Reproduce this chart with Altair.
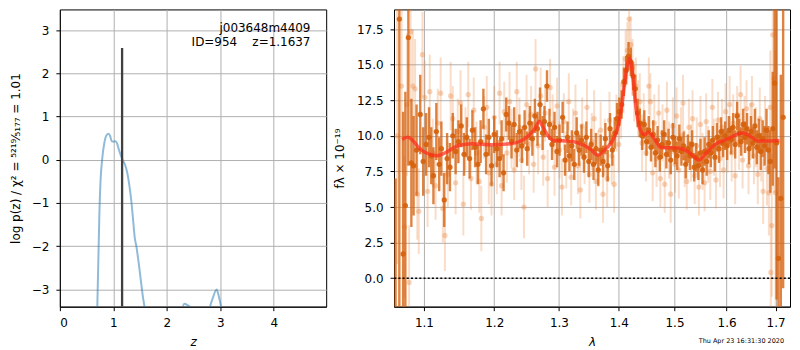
import altair as alt
import pandas as pd

FONT = "DejaVu Sans"

# ---------------- left panel: redshift probability ----------------
pz_z = [0.60, 0.66, 0.70, 0.72, 0.74, 0.76, 0.79, 0.83, 0.87, 0.91,
        0.94, 0.97, 1.00, 1.04, 1.07, 1.10, 1.14, 1.18, 1.22, 1.26,
        1.30, 1.34, 1.37, 1.40, 1.43, 1.47, 1.51, 1.55, 1.59, 1.64,
        1.80, 2.20, 2.27, 2.33, 2.38, 2.44, 2.55, 2.72, 2.80, 2.86,
        2.93, 2.97, 3.02, 3.10, 3.30]
pz_logp = [-9.0, -6.0, -3.4, -2.3, -1.2, -0.5, 0.0, 0.38, 0.56, 0.60,
           0.55, 0.43, 0.42, 0.43, 0.38, 0.25, 0.10, -0.02, -0.12, -0.30,
           -0.60, -1.00, -1.40, -1.80, -2.00, -2.35, -2.75, -3.15, -3.50, -4.50,
           -7.0, -4.5, -3.6, -3.33, -3.36, -3.42, -4.0, -4.2, -3.45, -3.2,
           -3.0, -3.15, -3.45, -4.5, -7.0]
z_best = [1.1637]
z_line_top = [2.59]
z_line_bottom = [-3.40]
left_xticks = [0, 1, 2, 3, 4]
left_yticks = [-3, -2, -1, 0, 1, 2, 3]
label_line1 = ["j003648m4409"]
label_line2 = ["ID=954\u00a0\u00a0\u00a0\u00a0z=1.1637"]

# ---------------- right panel: spectrum ----------------
model_wave = [1.0706, 1.078, 1.0835, 1.093, 1.102, 1.118, 1.130, 1.149, 1.168, 1.196,
              1.225, 1.240, 1.250, 1.261, 1.269, 1.274, 1.283, 1.292, 1.314, 1.330,
              1.352, 1.364, 1.377, 1.391, 1.399, 1.405, 1.410, 1.4165, 1.419, 1.424,
              1.430, 1.439, 1.446, 1.453, 1.462, 1.476, 1.499, 1.517, 1.5335, 1.546,
              1.558, 1.577, 1.600, 1.620, 1.633, 1.647, 1.6635, 1.684, 1.708]
model_flux = [9.75, 9.91, 9.75, 9.17, 8.83, 8.60, 8.83, 9.34, 9.45, 9.38,
              9.45, 9.64, 9.93, 10.44, 11.01, 10.67, 9.98, 9.67, 9.64, 9.52,
              9.06, 8.65, 9.06, 9.79, 10.67, 12.04, 13.65, 15.26, 15.44, 14.34,
              12.04, 10.32, 10.09, 10.25, 9.86, 9.17, 9.17, 9.06, 8.65, 8.30,
              8.72, 9.40, 9.75, 10.09, 10.20, 9.98, 9.64, 9.64, 9.67]

dark_wave = [1.062, 1.067, 1.072, 1.075, 1.079, 1.083, 1.086, 1.090, 1.095, 1.099,
             1.103, 1.107, 1.110, 1.113, 1.117, 1.121, 1.124, 1.128, 1.132, 1.136,
             1.140, 1.144, 1.148, 1.152, 1.156, 1.160, 1.164, 1.168, 1.172, 1.176,
             1.180, 1.184, 1.188, 1.192, 1.196, 1.200, 1.204, 1.208, 1.211, 1.214,
             1.218, 1.222, 1.226, 1.230, 1.234, 1.238, 1.242, 1.246, 1.250, 1.254,
             1.258, 1.262, 1.266, 1.270, 1.274, 1.277, 1.281, 1.285, 1.289, 1.293,
             1.297, 1.301, 1.306, 1.310, 1.314, 1.317, 1.321, 1.325, 1.329, 1.333,
             1.337, 1.341, 1.345, 1.349, 1.353, 1.357, 1.361, 1.365, 1.369, 1.373,
             1.377, 1.381, 1.385, 1.389, 1.393, 1.397, 1.401, 1.405, 1.409, 1.413,
             1.417, 1.421, 1.425, 1.429, 1.433, 1.437, 1.441, 1.445, 1.449, 1.453,
             1.457, 1.461, 1.465, 1.469, 1.473, 1.477, 1.481, 1.485, 1.489, 1.493,
             1.497, 1.501, 1.505, 1.509, 1.513, 1.517, 1.521, 1.525, 1.529, 1.533,
             1.537, 1.541, 1.545, 1.549, 1.553, 1.557, 1.561, 1.565, 1.569, 1.573,
             1.577, 1.581, 1.585, 1.589, 1.593, 1.597, 1.601, 1.605, 1.609, 1.613,
             1.617, 1.621, 1.625, 1.629, 1.633, 1.637, 1.641, 1.645, 1.649, 1.653,
             1.657, 1.661, 1.665, 1.669, 1.673, 1.677, 1.681, 1.685, 1.689, 1.694,
             1.698, 1.702, 1.706, 1.711, 1.716]
dark_flux = [-4.0, 18.2, 1.7, 5.1, 16.9, 8.1, 7.9, 9.0, 11.5, 8.2,
             9.4, 9.9, 8.6, 7.2, 10.3, 8.0, 9.1, 5.5, 8.4, 7.8,
             10.0, 8.9, 9.6, 10.7, 8.7, 9.9, 8.4, 10.4, 9.2, 8.0,
             9.6, 11.9, 8.7, 9.9, 7.9, 10.1, 9.1, 8.4, 9.8, 7.4,
             11.5, 10.9, 9.6, 10.8, 9.0, 10.3, 9.3, 10.6, 9.1, 10.9,
             9.8, 11.4, 10.5, 12.2, 10.2, 11.0, 13.5, 10.8, 9.4, 10.6,
             8.9, 9.7, 11.3, 8.3, 9.9, 8.6, 9.3, 8.0, 10.2, 9.0,
             9.7, 8.5, 9.9, 8.2, 9.4, 8.0, 9.1, 7.6, 9.0, 8.2,
             9.8, 7.9, 10.5, 9.0, 10.2, 11.2, 11.7, 12.2, 13.8, 14.6,
             15.6, 15.2, 14.2, 13.3, 11.6, 10.9, 10.0, 10.8, 9.6, 10.4,
             9.2, 10.1, 8.8, 9.7, 8.5, 9.4, 10.1, 8.7, 9.5, 8.3,
             9.9, 9.0, 8.6, 9.8, 8.9, 9.3, 8.0, 9.1, 8.6, 9.4,
             7.8, 8.5, 7.9, 8.8, 7.6, 8.9, 8.2, 9.4, 8.8, 9.7,
             8.5, 9.9, 9.1, 10.3, 9.5, 10.0, 9.3, 10.4, 9.7, 10.6,
             9.4, 11.4, 10.2, 9.6, 10.8, 9.9, 10.5, 9.1, 10.3, 9.5,
             10.7, 9.2, 10.0, 8.9, 9.8, 9.3, 10.4, 9.0, 8.2, 10.5,
             13.7, 9.5, 1.4, 5.6, 11.3]
dark_err = [11.0, 21.0, 10.0, 8.0, 9.0, 4.5, 3.5, 3.2, 2.8, 2.4,
            2.2, 2.1, 2.0, 2.0, 2.0, 1.9, 1.9, 1.9, 1.8, 1.7,
            1.6, 1.6, 1.5, 1.5, 1.5, 1.4, 1.4, 1.4, 1.4, 1.4,
            1.5, 1.4, 1.4, 1.3, 1.4, 1.3, 1.3, 1.3, 1.3, 1.3,
            1.2, 1.2, 1.2, 1.2, 1.2, 1.2, 1.2, 1.2, 1.2, 1.2,
            1.2, 1.2, 1.2, 1.2, 1.2, 1.1, 1.1, 1.1, 1.1, 1.1,
            1.1, 1.1, 1.1, 1.1, 1.1, 1.1, 1.1, 1.1, 1.1, 1.1,
            1.1, 1.1, 1.1, 1.1, 1.1, 1.1, 1.1, 1.1, 1.1, 1.1,
            1.1, 1.1, 1.1, 1.1, 1.1, 1.1, 1.0, 1.0, 1.0, 1.0,
            1.0, 1.0, 1.0, 1.0, 1.0, 1.0, 1.0, 1.0, 1.0, 1.0,
            1.0, 1.0, 1.0, 1.0, 1.0, 1.0, 1.0, 1.0, 1.0, 1.0,
            1.0, 1.0, 1.0, 1.0, 1.0, 1.0, 1.0, 1.0, 1.0, 1.0,
            1.0, 1.0, 1.0, 1.0, 1.0, 1.0, 1.0, 1.0, 1.0, 1.0,
            1.0, 1.0, 1.0, 1.0, 1.0, 1.0, 1.0, 1.0, 1.0, 1.0,
            1.0, 1.0, 1.0, 1.0, 1.1, 1.1, 1.1, 1.1, 1.1, 1.1,
            1.2, 1.2, 1.2, 1.3, 1.3, 1.4, 1.5, 1.7, 2.2, 4.0,
            6.0, 11.0, 5.7, 8.7, 12.0]

light_wave = [1.064, 1.070, 1.074, 1.077, 1.080, 1.082, 1.085, 1.088, 1.091, 1.093,
              1.098, 1.101, 1.105, 1.108, 1.112, 1.116, 1.119, 1.123, 1.126, 1.129,
              1.133, 1.137, 1.140, 1.144, 1.147, 1.151, 1.155, 1.158, 1.162, 1.166,
              1.170, 1.174, 1.178, 1.181, 1.185, 1.189, 1.192, 1.196, 1.200, 1.204,
              1.208, 1.211, 1.215, 1.219, 1.223, 1.226, 1.230, 1.234, 1.238, 1.241,
              1.245, 1.249, 1.253, 1.256, 1.260, 1.263, 1.267, 1.271, 1.275, 1.278,
              1.282, 1.286, 1.290, 1.293, 1.297, 1.301, 1.305, 1.308, 1.312, 1.316,
              1.320, 1.323, 1.327, 1.331, 1.335, 1.338, 1.342, 1.346, 1.350, 1.354,
              1.358, 1.361, 1.365, 1.369, 1.373, 1.376, 1.380, 1.384, 1.388, 1.392,
              1.396, 1.400, 1.404, 1.408, 1.412, 1.415, 1.418, 1.421, 1.424, 1.427,
              1.430, 1.434, 1.437, 1.441, 1.444, 1.448, 1.453, 1.456, 1.460, 1.463,
              1.467, 1.471, 1.474, 1.478, 1.482, 1.486, 1.490, 1.493, 1.497, 1.501,
              1.504, 1.508, 1.512, 1.516, 1.519, 1.523, 1.527, 1.531, 1.534, 1.538,
              1.542, 1.546, 1.549, 1.553, 1.557, 1.560, 1.564, 1.568, 1.572, 1.575,
              1.579, 1.583, 1.587, 1.591, 1.594, 1.598, 1.602, 1.606, 1.610, 1.613,
              1.617, 1.621, 1.625, 1.628, 1.632, 1.636, 1.640, 1.644, 1.648, 1.651,
              1.655, 1.659, 1.663, 1.667, 1.670, 1.674, 1.678, 1.682, 1.686, 1.689,
              1.690, 1.692, 1.694, 1.697, 1.700]
light_flux = [10.0, 13.5, 3.6, 12.2, -0.3, 17.3, 13.5, 13.3, 5.9, 4.7,
              15.7, 12.7, 6.1, 13.1, 8.8, 6.5, 10.9, 13.0, 4.9, 3.0,
              7.3, 12.8, 11.2, 6.7, 10.3, 12.3, 5.2, 9.8, 12.9, 7.0,
              11.8, 8.8, 6.8, 4.2, 10.6, 12.0, 7.4, 6.6, 11.3, 8.0,
              13.0, 6.5, 11.7, 8.8, 12.4, 9.8, 7.6, 13.1, 10.6, 8.3,
              5.0, 12.2, 9.4, 11.5, 8.0, 14.7, 9.3, 12.8, 8.5, 11.6,
              7.0, 13.4, 10.9, 7.8, 12.1, 9.0, 6.4, 11.0, 8.3, 12.4,
              7.1, 9.9, 11.6, 7.9, 6.2, 10.7, 8.6, 12.0, 7.3, 9.6,
              11.2, 6.8, 8.4, 10.4, 5.9, 9.2, 7.0, 11.1, 8.6, 6.6,
              10.9, 9.4, 11.8, 13.6, 15.4, 16.0, 18.2, 16.4, 14.8, 13.0,
              13.5, 11.9, 12.4, 9.5, 11.0, 8.8, 13.5, 12.4, 7.4, 10.9,
              8.4, 11.6, 7.0, 10.2, 6.6, 11.8, 9.0, 5.9, 10.7, 8.0,
              11.4, 7.6, 10.0, 12.3, 8.4, 6.8, 10.6, 8.8, 11.2, 7.2,
              9.3, 6.4, 10.8, 8.2, 6.7, 11.0, 8.7, 7.5, 12.0, 9.2,
              6.9, 11.1, 8.4, 10.6, 7.6, 11.7, 9.4, 12.2, 8.8, 10.9,
              7.2, 11.5, 9.6, 12.9, 8.3, 10.8, 11.9, 7.9, 10.3, 12.2,
              8.6, 9.9, 7.3, 11.2, 9.0, 6.1, 10.4, 7.7, 6.0, 12.0,
              0.4, 3.7, 17.1, 14.0, 6.0]
light_err = [9.0, 6.0, 5.0, 5.0, 4.0, 5.0, 4.0, 3.5, 3.2, 3.0,
             3.0, 2.6, 2.5, 2.6, 2.4, 2.4, 2.4, 2.5, 2.4, 2.5,
             2.3, 2.4, 2.3, 2.2, 2.3, 2.3, 2.2, 2.2, 2.3, 2.2,
             2.3, 2.2, 2.2, 2.3, 2.2, 2.2, 2.2, 2.2, 2.2, 2.1,
             2.2, 2.1, 2.1, 2.1, 2.1, 2.1, 2.1, 2.1, 2.1, 2.1,
             2.2, 2.1, 2.1, 2.0, 2.0, 2.1, 2.0, 2.0, 2.0, 2.0,
             2.0, 2.0, 2.0, 2.0, 2.0, 2.0, 2.0, 2.0, 2.0, 2.0,
             2.0, 2.0, 2.0, 2.0, 2.0, 2.0, 2.0, 2.0, 2.0, 2.0,
             2.0, 2.0, 2.0, 2.0, 2.0, 2.0, 2.0, 2.0, 2.0, 2.0,
             2.0, 2.0, 2.0, 2.0, 2.0, 2.0, 2.0, 2.0, 2.0, 2.0,
             2.0, 2.0, 2.0, 2.0, 2.0, 2.0, 2.0, 2.0, 2.0, 2.0,
             2.0, 2.0, 2.0, 2.0, 2.0, 2.0, 2.0, 2.0, 2.0, 2.0,
             2.0, 2.0, 2.0, 2.0, 2.0, 2.0, 2.0, 2.0, 2.0, 2.0,
             2.0, 2.0, 2.0, 2.0, 2.0, 2.0, 2.0, 2.0, 2.0, 2.0,
             2.0, 2.0, 2.0, 2.0, 2.0, 2.0, 2.0, 2.0, 2.0, 2.0,
             2.0, 2.0, 2.0, 2.0, 2.0, 2.0, 2.0, 2.0, 2.0, 2.0,
             2.0, 2.1, 2.1, 2.2, 2.2, 2.3, 2.4, 2.6, 3.0, 4.0,
             4.5, 5.0, 7.0, 8.0, 10.0]
right_xticks = [1.1, 1.2, 1.3, 1.4, 1.5, 1.6, 1.7]
right_yticks = [0.0, 2.5, 5.0, 7.5, 10.0, 12.5, 15.0, 17.5]
zero_level = [0.0]
timestamp = ["Thu Apr 23 16:31:30 2020"]

for a, b in [(dark_wave, dark_flux), (dark_wave, dark_err), (light_wave, light_flux),
             (light_wave, light_err), (model_wave, model_flux), (pz_z, pz_logp)]:
    assert len(a) == len(b), (len(a), len(b))

# ---------------- build charts ----------------
WL, WR, H = 267, 397, 298

pz_df = pd.DataFrame({"z": pz_z, "logp": pz_logp})
zb_df = pd.DataFrame({"z": z_best, "top": z_line_top, "bottom": z_line_bottom})

xz_scale = alt.Scale(domain=[0, 4.98], nice=False, zero=False)
ylp_scale = alt.Scale(domain=[-3.40, 3.48], nice=False, zero=False)

left_title = "log p(z) / χ² = ⁵²¹⁹⁄₅₁₇₇ = 1.01"

pz_line = alt.Chart(pz_df).mark_line(
    color="#1f77b4", opacity=0.5, strokeWidth=2, clip=True, interpolate="monotone"
).encode(
    x=alt.X("z:Q", scale=xz_scale,
            axis=alt.Axis(values=left_xticks, title="z", titleFontStyle="italic", format="d",
                          titlePadding=8)),
    y=alt.Y("logp:Q", scale=ylp_scale,
            axis=alt.Axis(values=left_yticks, title=left_title, format="d", titlePadding=9)),
)
z_rule = alt.Chart(zb_df).mark_rule(color="#404040", strokeWidth=2.3, clip=True).encode(
    x=alt.X("z:Q", scale=xz_scale), y=alt.Y("bottom:Q", scale=ylp_scale), y2="top:Q"
)
lab1 = alt.Chart(pd.DataFrame({"t": label_line1})).mark_text(
    align="right", baseline="alphabetic", fontSize=12, font=FONT, color="black"
).encode(x=alt.value(WL * 0.941), y=alt.value(23), text="t:N")
lab2 = alt.Chart(pd.DataFrame({"t": label_line2})).mark_text(
    align="right", baseline="alphabetic", fontSize=12, font=FONT, color="black"
).encode(x=alt.value(WL * 0.941), y=alt.value(37), text="t:N")
left = alt.layer(pz_line, z_rule, lab1, lab2).properties(width=WL, height=H)

dark_df = pd.DataFrame({"wave": dark_wave, "flux": dark_flux, "err": dark_err})
light_df = pd.DataFrame({"wave": light_wave, "flux": light_flux, "err": light_err})
model_df = pd.DataFrame({"wave": model_wave, "flux": model_flux})
zero_df = pd.DataFrame({"y": zero_level})
ts_df = pd.DataFrame({"t": timestamp})

xw_scale = alt.Scale(type="log", domain=[1.0600, 1.7306], nice=False)
yf_scale = alt.Scale(domain=[-2.0, 18.88], nice=False, zero=False)
xw = alt.X("wave:Q", scale=xw_scale,
           axis=alt.Axis(values=right_xticks, format=".1f", title="λ", titleFontStyle="italic",
                         titlePadding=8))

LIGHT = "#e8843c"
DARK = "#d5600b"

light_bars = alt.Chart(light_df).transform_calculate(
    lo="datum.flux - datum.err", hi="datum.flux + datum.err"
).mark_rule(color=LIGHT, opacity=0.28, strokeWidth=2.0, clip=True).encode(
    x=xw,
    y=alt.Y("lo:Q", scale=yf_scale,
            axis=alt.Axis(values=right_yticks, format=".1f", title="fλ × 10⁻¹⁹", titlePadding=10)),
    y2="hi:Q",
)
light_pts = alt.Chart(light_df).mark_circle(color=LIGHT, opacity=0.35, size=28, clip=True).encode(
    x=alt.X("wave:Q", scale=xw_scale), y=alt.Y("flux:Q", scale=yf_scale)
)
dark_bars = alt.Chart(dark_df).transform_calculate(
    lo="datum.flux - datum.err", hi="datum.flux + datum.err"
).mark_rule(color=DARK, opacity=0.78, strokeWidth=2.4, clip=True).encode(
    x=alt.X("wave:Q", scale=xw_scale), y=alt.Y("lo:Q", scale=yf_scale), y2="hi:Q"
)
dark_pts = alt.Chart(dark_df).mark_circle(color=DARK, opacity=0.9, size=28, clip=True).encode(
    x=alt.X("wave:Q", scale=xw_scale), y=alt.Y("flux:Q", scale=yf_scale)
)
model_line = alt.Chart(model_df).mark_line(
    color="#ff2a1a", opacity=0.7, strokeWidth=3.5, clip=True, interpolate="monotone"
).encode(x=alt.X("wave:Q", scale=xw_scale), y=alt.Y("flux:Q", scale=yf_scale))
zero_line = alt.Chart(zero_df).mark_rule(
    color="black", strokeWidth=1.6, strokeDash=[2, 2.2]
).encode(y=alt.Y("y:Q", scale=yf_scale))
ts_text = alt.Chart(ts_df).mark_text(
    align="right", baseline="alphabetic", fontSize=6.5, font=FONT, color="black"
).encode(x=alt.value(WR * 0.985), y=alt.value(H + 36.5), text="t:N")

right = alt.layer(light_bars, light_pts, dark_bars, dark_pts, model_line, zero_line, ts_text
                  ).properties(width=WR, height=H)

chart = alt.hconcat(left, right, spacing=5).properties(
    padding={"left": 0, "top": 0, "right": 0, "bottom": 0}
).configure_axis(
    labelFont=FONT, titleFont=FONT, labelFontSize=12, titleFontSize=12,
    labelColor="black", titleColor="black", tickColor="black", domainColor="black",
    gridColor="#b0b0b0", gridWidth=1, tickSize=4, tickWidth=1, labelPadding=7,
    titleFontWeight="normal", grid=True, domainWidth=1,
).configure_view(stroke="black", strokeWidth=1)

chart.save("out.html", embed_options={"renderer": "svg", "actions": False})
